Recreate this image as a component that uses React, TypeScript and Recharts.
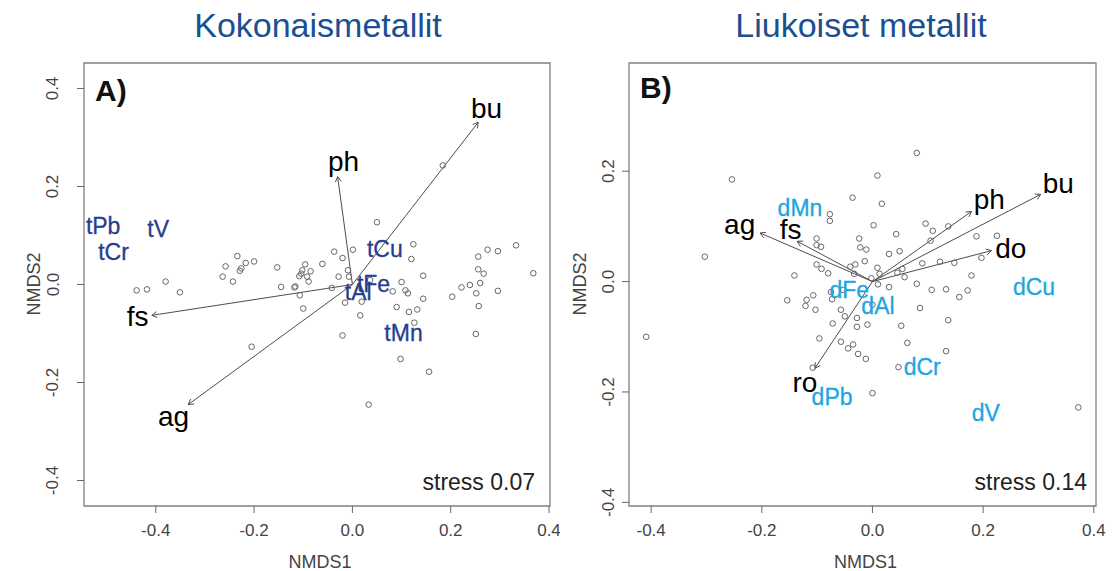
import { ScatterChart, Scatter, XAxis, YAxis, ReferenceLine, ReferenceArea, Label } from 'recharts';

const FONT = '"Liberation Sans", Arial, Helvetica, sans-serif';

// A) Kokonaismetallit – site scores
const sitesA = [
  { x: -0.439, y: -0.012 }, { x: -0.418, y: -0.010 }, { x: -0.380, y: 0.006 }, { x: -0.351, y: -0.016 },
  { x: -0.264, y: 0.016 }, { x: -0.258, y: 0.037 }, { x: -0.243, y: 0.006 }, { x: -0.234, y: 0.058 },
  { x: -0.229, y: 0.028 }, { x: -0.226, y: 0.033 }, { x: -0.217, y: 0.044 }, { x: -0.200, y: 0.047 },
  { x: -0.205, y: -0.127 },
  { x: -0.153, y: 0.035 }, { x: -0.145, y: -0.005 }, { x: -0.118, y: -0.006 }, { x: -0.116, y: -0.004 },
  { x: -0.108, y: 0.017 }, { x: -0.107, y: -0.022 }, { x: -0.102, y: 0.029 }, { x: -0.100, y: -0.049 },
  { x: -0.096, y: 0.041 }, { x: -0.092, y: 0.016 }, { x: -0.089, y: 0.006 }, { x: -0.085, y: 0.027 },
  { x: -0.104, y: 0.022 },
  { x: -0.061, y: 0.042 }, { x: -0.042, y: -0.007 }, { x: -0.037, y: 0.067 }, { x: -0.028, y: 0.016 },
  { x: -0.020, y: 0.054 }, { x: -0.009, y: 0.029 }, { x: -0.007, y: 0.016 }, { x: 0.001, y: 0.071 },
  { x: -0.015, y: -0.037 }, { x: 0.019, y: -0.035 }, { x: 0.016, y: -0.063 }, { x: -0.020, y: -0.104 },
  { x: 0.033, y: -0.245 }, { x: 0.036, y: 0.009 },
  { x: 0.050, y: 0.127 }, { x: 0.184, y: 0.243 },
  { x: 0.082, y: -0.014 }, { x: 0.100, y: 0.005 }, { x: 0.108, y: -0.012 }, { x: 0.113, y: -0.018 },
  { x: 0.090, y: -0.046 }, { x: 0.115, y: -0.056 }, { x: 0.132, y: -0.051 }, { x: 0.126, y: -0.078 },
  { x: 0.098, y: -0.152 }, { x: 0.156, y: -0.178 }, { x: 0.124, y: 0.082 }, { x: 0.120, y: 0.052 },
  { x: 0.144, y: 0.018 }, { x: 0.144, y: -0.029 },
  { x: 0.203, y: -0.025 }, { x: 0.222, y: -0.006 }, { x: 0.239, y: -0.001 }, { x: 0.252, y: -0.018 },
  { x: 0.257, y: -0.044 }, { x: 0.251, y: -0.101 }, { x: 0.260, y: 0.003 }, { x: 0.267, y: 0.022 },
  { x: 0.256, y: 0.031 }, { x: 0.256, y: 0.057 }, { x: 0.275, y: 0.071 }, { x: 0.296, y: 0.068 },
  { x: 0.333, y: 0.080 }, { x: 0.368, y: 0.023 }, { x: 0.296, y: -0.013 },
];
const envA = [
  { name: 'bu', x: 0.256, y: 0.331 },
  { name: 'ph', x: -0.030, y: 0.220 },
  { name: 'fs', x: -0.408, y: -0.063 },
  { name: 'ag', x: -0.334, y: -0.245 },
];
const envLabelsA = [
  { name: 'bu', x: 0.273, y: 0.359 },
  { name: 'ph', x: -0.018, y: 0.252 },
  { name: 'fs', x: -0.437, y: -0.065 },
  { name: 'ag', x: -0.364, y: -0.270 },
];
const metalsA = [
  { name: 'tPb', x: -0.507, y: 0.120 },
  { name: 'tCr', x: -0.486, y: 0.067 },
  { name: 'tV', x: -0.395, y: 0.114 },
  { name: 'tCu', x: 0.066, y: 0.072 },
  { name: 'tFe', x: 0.043, y: 0.001 },
  { name: 'tAl', x: 0.012, y: -0.015 },
  { name: 'tMn', x: 0.104, y: -0.099 },
];

// B) Liukoiset metallit – site scores
const sitesB = [
  { x: -0.409, y: -0.100 }, { x: -0.303, y: 0.045 }, { x: -0.254, y: 0.185 }, { x: -0.141, y: 0.011 },
  { x: -0.154, y: -0.034 }, { x: -0.119, y: -0.033 }, { x: -0.121, y: -0.044 }, { x: -0.107, y: -0.025 },
  { x: -0.103, y: -0.051 }, { x: -0.096, y: -0.103 }, { x: -0.072, y: -0.076 }, { x: -0.057, y: -0.051 },
  { x: -0.050, y: -0.063 }, { x: -0.057, y: -0.109 }, { x: -0.044, y: -0.121 }, { x: -0.035, y: -0.114 },
  { x: -0.026, y: -0.131 }, { x: -0.012, y: -0.140 }, { x: -0.028, y: -0.066 }, { x: -0.028, y: -0.082 },
  { x: -0.009, y: -0.078 }, { x: 0.000, y: -0.042 }, { x: 0.010, y: -0.005 }, { x: 0.000, y: -0.202 },
  { x: -0.108, y: -0.156 }, { x: 0.047, y: -0.155 }, { x: 0.052, y: -0.080 }, { x: 0.063, y: -0.111 },
  { x: 0.086, y: -0.048 }, { x: 0.133, y: -0.126 }, { x: 0.137, y: -0.070 }, { x: 0.157, y: -0.028 },
  { x: 0.172, y: -0.016 }, { x: 0.133, y: -0.014 }, { x: 0.107, y: -0.015 }, { x: 0.080, y: -0.004 },
  { x: 0.179, y: 0.011 }, { x: 0.197, y: 0.043 }, { x: 0.148, y: 0.034 }, { x: 0.122, y: 0.036 },
  { x: 0.090, y: 0.033 }, { x: 0.058, y: 0.008 }, { x: 0.054, y: 0.023 }, { x: 0.045, y: 0.016 },
  { x: 0.030, y: -0.010 }, { x: 0.013, y: 0.014 }, { x: 0.009, y: 0.025 }, { x: 0.030, y: 0.050 },
  { x: 0.049, y: 0.055 }, { x: 0.043, y: 0.086 }, { x: 0.002, y: 0.102 }, { x: 0.017, y: 0.141 },
  { x: 0.009, y: 0.192 }, { x: 0.080, y: 0.233 }, { x: -0.036, y: 0.152 }, { x: -0.077, y: 0.122 },
  { x: -0.077, y: 0.110 }, { x: -0.101, y: 0.078 }, { x: -0.101, y: 0.066 }, { x: -0.093, y: 0.063 },
  { x: -0.024, y: 0.078 }, { x: -0.022, y: 0.062 }, { x: -0.011, y: 0.058 }, { x: -0.014, y: 0.037 },
  { x: -0.031, y: 0.031 }, { x: -0.040, y: 0.027 }, { x: -0.033, y: 0.014 }, { x: -0.101, y: 0.031 },
  { x: -0.092, y: 0.023 }, { x: -0.080, y: 0.015 }, { x: -0.075, y: -0.019 }, { x: -0.073, y: -0.032 },
  { x: 0.096, y: 0.105 }, { x: 0.109, y: 0.092 }, { x: 0.137, y: 0.100 }, { x: 0.105, y: 0.074 },
  { x: 0.188, y: 0.082 }, { x: 0.225, y: 0.083 }, { x: 0.372, y: -0.228 }, { x: -0.002, y: 0.006 },
  { x: -0.053, y: -0.015 },
];
const envB = [
  { name: 'bu', x: 0.304, y: 0.158 },
  { name: 'ph', x: 0.179, y: 0.127 },
  { name: 'do', x: 0.215, y: 0.056 },
  { name: 'ag', x: -0.203, y: 0.088 },
  { name: 'fs', x: -0.136, y: 0.073 },
  { name: 'ro', x: -0.104, y: -0.157 },
];
const envLabelsB = [
  { name: 'bu', x: 0.336, y: 0.177 },
  { name: 'ph', x: 0.211, y: 0.148 },
  { name: 'do', x: 0.250, y: 0.060 },
  { name: 'ag', x: -0.240, y: 0.103 },
  { name: 'fs', x: -0.148, y: 0.095 },
  { name: 'ro', x: -0.122, y: -0.182 },
];
const metalsB = [
  { name: 'dMn', x: -0.131, y: 0.134 },
  { name: 'dFe', x: -0.042, y: -0.015 },
  { name: 'dAl', x: 0.010, y: -0.045 },
  { name: 'dCu', x: 0.292, y: -0.010 },
  { name: 'dCr', x: 0.090, y: -0.155 },
  { name: 'dPb', x: -0.073, y: -0.210 },
  { name: 'dV', x: 0.205, y: -0.239 },
];

const xTicks = [-0.4, -0.2, 0, 0.2, 0.4];
const fmt = (v: number) => v.toFixed(1);

function Arrow(props: any) {
  const { x1, y1, x2, y2 } = props;
  const a = Math.atan2(y2 - y1, x2 - x1);
  const len = 6;
  const s = Math.PI / 6;
  const p1 = [x2 - len * Math.cos(a - s), y2 - len * Math.sin(a - s)];
  const p2 = [x2 - len * Math.cos(a + s), y2 - len * Math.sin(a + s)];
  return (
    <g>
      <line x1={x1} y1={y1} x2={x2} y2={y2} stroke="#4d4d4d" strokeWidth={1} />
      <polyline points={`${p1[0]},${p1[1]} ${x2},${y2} ${p2[0]},${p2[1]}`} fill="none" stroke="#4d4d4d" strokeWidth={1} />
    </g>
  );
}

function Panel(p: any) {
  const plotW = p.width - p.yAxisWidth - p.rightMargin;
  return (
    <div style={{ position: 'absolute', left: p.left, top: 0 }}>
      <ScatterChart width={p.width} height={571} margin={{ top: 63, right: p.rightMargin, bottom: 0, left: 0 }}>
        <XAxis
          type="number"
          dataKey="x"
          domain={p.xDomain}
          allowDataOverflow
          ticks={xTicks}
          interval={0}
          tickFormatter={fmt}
          axisLine={false}
          tickSize={7}
          tickMargin={11}
          height={65}
          tickLine={{ stroke: '#666' }}
          tick={{ fill: '#444', fontSize: 17, fontFamily: FONT }}
        >
          <Label
            content={() => (
              <text x={p.yAxisWidth + plotW / 2 + 3} y={568} textAnchor="middle" fill="#444" fontSize={18} fontFamily={FONT}>
                NMDS1
              </text>
            )}
          />
        </XAxis>
        <YAxis
          type="number"
          dataKey="y"
          domain={p.yDomain}
          allowDataOverflow
          ticks={p.yTicks}
          interval={0}
          axisLine={false}
          tickSize={7}
          width={p.yAxisWidth}
          tickLine={{ stroke: '#666' }}
          tick={(t: any) => (
            <text
              x={p.tickLabelX}
              y={t.y}
              transform={`rotate(-90 ${p.tickLabelX} ${t.y})`}
              textAnchor="middle"
              dominantBaseline="central"
              fill="#444"
              fontSize={17}
              fontFamily={FONT}
            >
              {fmt(t.payload.value)}
            </text>
          )}
        >
          <Label
            content={() => (
              <text
                x={p.nmdsX}
                y={284}
                transform={`rotate(-90 ${p.nmdsX} 284)`}
                textAnchor="middle"
                dominantBaseline="central"
                fill="#444"
                fontSize={18}
                fontFamily={FONT}
              >
                NMDS2
              </text>
            )}
          />
        </YAxis>
        <ReferenceArea
          x1={p.xDomain[0]}
          x2={p.xDomain[1]}
          y1={p.yDomain[0]}
          y2={p.yDomain[1]}
          fill="none"
          fillOpacity={0}
          stroke="#808080"
          strokeWidth={1.3}
          ifOverflow="visible"
        >
          <Label
            content={() => (
              <text x={p.titleX} y={37} textAnchor="middle" fill="#1b4f93" fontSize={34} fontFamily={FONT}>
                {p.title}
              </text>
            )}
          />
          <Label
            content={() => (
              <text x={p.yAxisWidth + 11} y={p.tagBaseline} fill="#111" fontSize={30} fontWeight="bold" fontFamily={FONT}>
                {p.tag}
              </text>
            )}
          />
          <Label
            content={() => (
              <text x={p.yAxisWidth + plotW - p.stressInset} y={490} textAnchor="end" fill="#222" fontSize={23} fontFamily={FONT}>
                {p.stress}
              </text>
            )}
          />
        </ReferenceArea>
        {p.env.map((e: any) => (
          <ReferenceLine
            key={e.name}
            segment={[{ x: 0, y: 0 }, { x: e.x, y: e.y }]}
            shape={Arrow}
            ifOverflow="visible"
          />
        ))}
        <Scatter
          data={p.sites}
          isAnimationActive={false}
          shape={(s: any) => <circle cx={s.cx} cy={s.cy} r={2.8} fill="none" stroke="#666" strokeWidth={1} />}
        />
        <Scatter
          data={p.envLabels}
          isAnimationActive={false}
          shape={(s: any) => (
            <text x={s.cx} y={s.cy} textAnchor="middle" dominantBaseline="central" fill="#000" fontSize={28} fontFamily={FONT}>
              {s.payload.name}
            </text>
          )}
        />
        <Scatter
          data={p.metals}
          isAnimationActive={false}
          shape={(s: any) => (
            <text
              x={s.cx}
              y={s.cy}
              textAnchor="middle"
              dominantBaseline="central"
              fill={p.metalColor}
              stroke={p.metalColor}
              strokeWidth={0.3}
              fontSize={23}
              fontFamily={FONT}
            >
              {s.payload.name}
            </text>
          )}
        />
      </ScatterChart>
    </div>
  );
}

export default function App() {
  return (
    <div style={{ position: 'absolute', left: 0, top: 0, width: 1119, height: 571, background: '#fff' }}>
      <Panel
        left={0}
        width={560}
        yAxisWidth={84}
        rightMargin={10}
        xDomain={[-0.546, 0.402]}
        yDomain={[-0.452, 0.452]}
        yTicks={[-0.4, -0.2, 0, 0.2, 0.4]}
        tickLabelX={53}
        nmdsX={34}
        title="Kokonaismetallit"
        titleX={318}
        tag="A)"
        tagBaseline={101}
        stress="stress 0.07"
        stressInset={15}
        sites={sitesA}
        env={envA}
        envLabels={envLabelsA}
        metals={metalsA}
        metalColor="#263d8f"
      />
      <Panel
        left={560}
        width={559}
        yAxisWidth={69}
        rightMargin={23}
        xDomain={[-0.44, 0.404]}
        yDomain={[-0.4066, 0.396]}
        yTicks={[-0.4, -0.2, 0, 0.2]}
        tickLabelX={49}
        nmdsX={20}
        title="Liukoiset metallit"
        titleX={301}
        tag="B)"
        tagBaseline={98}
        stress="stress 0.14"
        stressInset={9}
        sites={sitesB}
        env={envB}
        envLabels={envLabelsB}
        metals={metalsB}
        metalColor="#1ca6df"
      />
    </div>
  );
}
